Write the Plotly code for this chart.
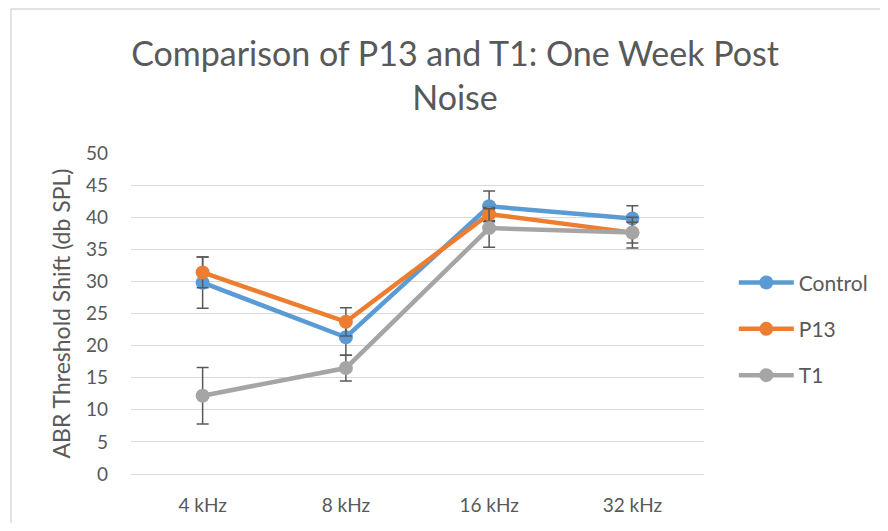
import plotly.graph_objects as go

freqs = ["4 kHz", "8 kHz", "16 kHz", "32 kHz"]

control = [29.8, 21.3, 41.7, 39.8]
control_err = [4.0, 2.8, 2.4, 2.0]

p13 = [31.4, 23.7, 40.5, 37.6]
p13_err = [2.4, 2.2, 1.0, 1.6]

t1 = [12.2, 16.5, 38.3, 37.6]
t1_err = [4.4, 2.0, 3.0, 2.4]

FONT = "Lato, Calibri, sans-serif"
TXT = "#595959"

# page has an 8px body margin; keep the figure inside the window
W, H = 872, 515
L, T = 123, 145
PW, PH = 573, 321
R, B = W - L - PW, H - T - PH

fig = go.Figure()

for name, vals, err, col in [
    ("Control", control, control_err, "#5B9BD5"),
    ("P13", p13, p13_err, "#ED7D31"),
    ("T1", t1, t1_err, "#A5A5A5"),
]:
    fig.add_trace(go.Scatter(
        x=freqs,
        y=vals,
        name=name,
        legendgroup=name,
        mode="lines+markers",
        line=dict(color=col, width=4.5),
        marker=dict(color=col, size=14),
        error_y=dict(type="data", array=err, visible=True,
                     color="#595959", thickness=1.5, width=6),
    ))

# chart frame: only the top and left edges fall inside the picture
bx = (3 - L) / PW
by = (PH + T - 1) / PH
frame = [
    dict(type="line", xref="paper", yref="paper",
         x0=bx, x1=(W + 20 - L) / PW, y0=by, y1=by,
         line=dict(color="#d9d9d9", width=1.5), layer="below"),
    dict(type="line", xref="paper", yref="paper",
         x0=bx, x1=bx, y0=by, y1=-(B + 20) / PH,
         line=dict(color="#d9d9d9", width=1.5), layer="below"),
]

fig.update_layout(
    width=W,
    height=H,
    paper_bgcolor="white",
    plot_bgcolor="white",
    margin=dict(l=L, r=R, t=T, b=B, autoexpand=False),
    font=dict(family=FONT, color=TXT, size=19),
    title=dict(
        text="Comparison of P13 and T1: One Week Post<br>Noise",
        font=dict(family=FONT, size=34, color=TXT),
        x=447 / W, xanchor="center", xref="container",
        y=1 - 58 / H, yanchor="top", yref="container",
    ),
    xaxis=dict(
        range=[-0.5, 3.5],
        automargin=False,
        showgrid=False,
        showline=False,
        zeroline=False,
        ticks="",
        ticklabelstandoff=18,
        tickfont=dict(size=19, color=TXT),
    ),
    yaxis=dict(
        range=[0, 50],
        dtick=5,
        automargin=False,
        showgrid=True,
        gridcolor="#d9d9d9",
        gridwidth=1,
        zeroline=True,
        zerolinecolor="#d9d9d9",
        zerolinewidth=1,
        showline=False,
        ticks="",
        ticklabelstandoff=22,
        tickfont=dict(size=19, color=TXT),
        title=dict(text="ABR Threshold Shift (db SPL)",
                   font=dict(size=23, color=TXT), standoff=8),
    ),
    legend=dict(
        x=1.052, xanchor="left",
        y=0.452, yanchor="middle",
        font=dict(size=21, color=TXT),
        tracegroupgap=16,
        itemwidth=55,
    ),
    shapes=frame,
)

fig.write_html("out.html")
